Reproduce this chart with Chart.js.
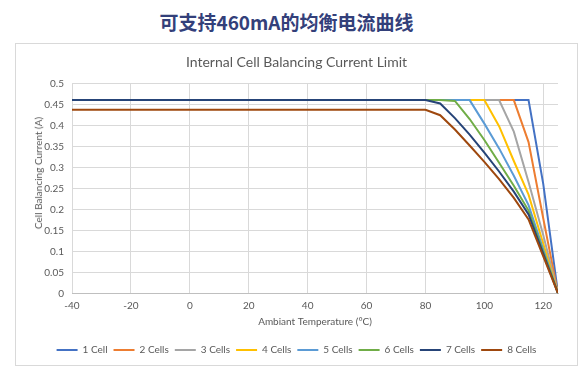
<!DOCTYPE html>
<html>
<head>
<meta charset="utf-8">
<script src="https://cdn.jsdelivr.net/npm/chart.js@4/dist/chart.umd.min.js"></script>
<style>
  html, body { margin: 0; padding: 0; background: #fff; }
  body { width: 586px; height: 375px; position: relative; overflow: hidden; }
  #head {
    position: absolute; left: 0; top: 10px; width: 573px;
    text-align: center; font-family: "Noto Sans CJK SC", sans-serif;
    font-weight: bold; font-size: 19px; line-height: 24px; color: #33407a;
  }
  #box {
    position: absolute; left: 15px; top: 43px; width: 563px; height: 323px;
    border: 1px solid #d9d9d9; box-sizing: border-box;
  }
  #ytitle {
    position: absolute; left: 38px; top: 173px; width: 0; height: 0;
  }
  #ytitle span {
    position: absolute; left: 0; top: 0; white-space: nowrap;
    transform: translate(-50%, -50%) rotate(-90deg);
    font-family: Lato, sans-serif; font-size: 10px; line-height: 12px; color: #595959;
  }
</style>
</head>
<body>
<div id="head">可支持460mA的均衡电流曲线</div>
<div id="box"><canvas id="chart"></canvas></div>
<div id="ytitle"><span>Cell Balancing Current (A)</span></div>
<script>
const temps = [-40, 80, 85, 90, 95, 100, 105, 110, 115, 120, 125];

const cell1 = [0.46, 0.46, 0.46, 0.46, 0.46, 0.46, 0.46, 0.46, 0.46, 0.26, 0];
const cell2 = [0.46, 0.46, 0.46, 0.46, 0.46, 0.46, 0.46, 0.46, 0.36, 0.178, 0];
const cell3 = [0.46, 0.46, 0.46, 0.46, 0.46, 0.46, 0.46, 0.385, 0.265, 0.138, 0];
const cell4 = [0.46, 0.46, 0.46, 0.46, 0.46, 0.46, 0.398, 0.315, 0.235, 0.118, 0];
const cell5 = [0.46, 0.46, 0.46, 0.46, 0.46, 0.404, 0.345, 0.28, 0.21, 0.105, 0];
const cell6 = [0.46, 0.46, 0.46, 0.458, 0.415, 0.365, 0.311, 0.256, 0.197, 0.099, 0];
const cell7 = [0.46, 0.46, 0.452, 0.417, 0.378, 0.335, 0.29, 0.242, 0.188, 0.094, 0];
const cell8 = [0.437, 0.437, 0.424, 0.39, 0.352, 0.313, 0.272, 0.227, 0.176, 0.088, 0];

const seriesNames = ["1 Cell", "2 Cells", "3 Cells", "4 Cells", "5 Cells", "6 Cells", "7 Cells", "8 Cells"];
const seriesValues = [cell1, cell2, cell3, cell4, cell5, cell6, cell7, cell8];
const seriesColors = ["#4472c4", "#ed7d31", "#a5a5a5", "#ffc000", "#5b9bd5", "#70ad47", "#264478", "#9e480e"];

const xTicks = [-40, -20, 0, 20, 40, 60, 80, 100, 120];
const yTicks = [0, 0.05, 0.1, 0.15, 0.2, 0.25, 0.3, 0.35, 0.4, 0.45, 0.5];
const yTickLabels = ["0", "0.05", "0.1", "0.15", "0.2", "0.25", "0.3", "0.35", "0.4", "0.45", "0.5"];

const txt = "#595959";
const fnt = (size) => ({ family: "Lato", size: size });

const datasets = seriesNames.map((name, i) => ({
  label: name,
  data: temps.map((t, k) => ({ x: t, y: seriesValues[i][k] })),
  borderColor: seriesColors[i],
  backgroundColor: seriesColors[i],
  borderWidth: 2,
  pointRadius: 0,
  tension: 0,
  // excel draws the last series on top
  order: seriesNames.length - i,
}));

new Chart(document.getElementById("chart"), {
  type: "line",
  data: { datasets: datasets },
  options: {
    responsive: true,
    maintainAspectRatio: false,
    animation: false,
    layout: { padding: { left: 19, right: 19, top: 0, bottom: 0 } },
    plugins: {
      title: {
        display: true,
        text: "Internal Cell Balancing Current Limit",
        color: txt,
        font: { family: "Lato", size: 14, weight: "normal" },
        padding: { top: 9.6, bottom: 12.9 },
      },
      legend: {
        position: "bottom",
        labels: {
          color: txt,
          font: fnt(10),
          boxWidth: 21,
          boxHeight: 2,
          padding: 6,
          generateLabels: function (chart) {
            const items = Chart.defaults.plugins.legend.labels.generateLabels(chart);
            items.forEach((it) => { it.lineWidth = 0; it.fillStyle = it.strokeStyle; });
            return items.sort((a, b) => a.datasetIndex - b.datasetIndex);
          },
        },
      },
      tooltip: { enabled: false },
    },
    scales: {
      x: {
        type: "linear",
        min: -40,
        max: 125,
        afterBuildTicks: (s) => { s.ticks = xTicks.map((v) => ({ value: v })); },
        afterFit: (s) => { s.height = 45.7; },
        grid: { color: "#d9d9d9", drawTicks: false },
        border: { display: true, color: "#bfbfbf" },
        ticks: { color: txt, font: fnt(10), padding: 6.7, maxRotation: 0, autoSkip: false },
        title: {
          display: true,
          text: "Ambiant Temperature (°C)",
          color: txt,
          font: fnt(10),
          padding: { top: 0, bottom: 11 },
        },
      },
      y: {
        min: 0,
        max: 0.5,
        afterBuildTicks: (s) => { s.ticks = yTicks.map((v) => ({ value: v })); },
        afterFit: (s) => { s.width = 37; },
        grid: { color: "#d9d9d9", drawTicks: false },
        border: { display: false },
        ticks: {
          color: txt,
          font: fnt(10),
          padding: 8,
          callback: (v, i) => yTickLabels[i],
        },
      },
    },
  },
});
</script>
</body>
</html>
